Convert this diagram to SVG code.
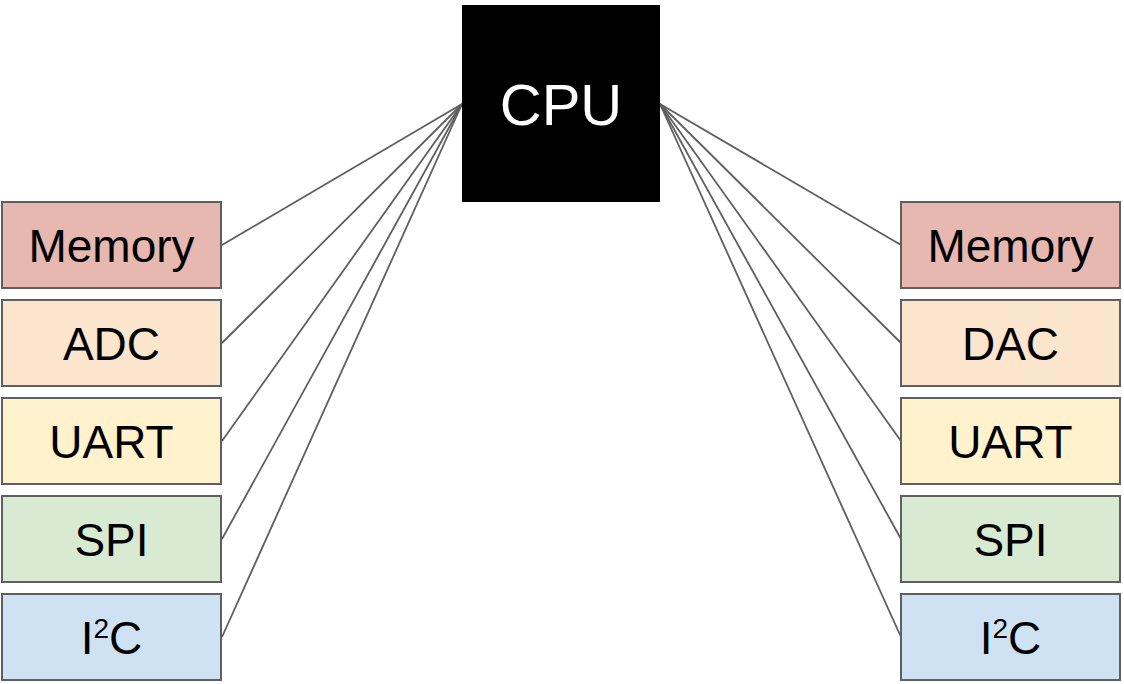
<svg xmlns="http://www.w3.org/2000/svg" width="1124" height="684" viewBox="0 0 1124 684">
  <style>
    .box { stroke: #5f5f5f; stroke-width: 2; }
    .lbl { font-family: "Liberation Sans", Arial, sans-serif; font-size: 46px; fill: #000; text-anchor: middle; }
    .cpu { font-family: "Liberation Sans", Arial, sans-serif; font-size: 58px; fill: #fff; text-anchor: middle; }
    .wire { stroke: #5f5f5f; stroke-width: 1.8; fill: none; }
    .mem { fill: #e6b8af; }
    .conv { fill: #fce5cd; }
    .uart { fill: #fff2cc; }
    .spi { fill: #d9ead3; }
    .i2c { fill: #cfe2f3; }
  </style>
  <rect width="1124" height="684" fill="#fff"/>

  <!-- bus wiring from the CPU to each peripheral -->
  <g id="connectors">
    <line class="wire" x1="462" y1="104" x2="222" y2="245"/>
    <line class="wire" x1="462" y1="104" x2="222" y2="343"/>
    <line class="wire" x1="462" y1="104" x2="222" y2="441"/>
    <line class="wire" x1="462" y1="104" x2="222" y2="539"/>
    <line class="wire" x1="462" y1="104" x2="222" y2="637"/>
    <line class="wire" x1="660" y1="104" x2="901" y2="245"/>
    <line class="wire" x1="660" y1="104" x2="901" y2="343"/>
    <line class="wire" x1="660" y1="104" x2="901" y2="441"/>
    <line class="wire" x1="660" y1="104" x2="901" y2="539"/>
    <line class="wire" x1="660" y1="104" x2="901" y2="637"/>
  </g>

  <g id="cpu">
    <rect x="462" y="5" width="198" height="197" fill="#000"/>
    <text class="cpu" x="561" y="125">CPU</text>
  </g>

  <!-- left column -->
  <g id="left-memory">
    <rect class="box mem" x="2" y="202" width="219" height="86"/>
    <text class="lbl" x="111.5" y="261.5">Memory</text>
  </g>
  <g id="left-adc">
    <rect class="box conv" x="2" y="300" width="219" height="86"/>
    <text class="lbl" x="111.5" y="359.5">ADC</text>
  </g>
  <g id="left-uart">
    <rect class="box uart" x="2" y="398" width="219" height="86"/>
    <text class="lbl" x="111.5" y="457.5">UART</text>
  </g>
  <g id="left-spi">
    <rect class="box spi" x="2" y="496" width="219" height="86"/>
    <text class="lbl" x="111.5" y="555.5">SPI</text>
  </g>
  <g id="left-i2c">
    <rect class="box i2c" x="2" y="594" width="219" height="86"/>
    <text class="lbl" x="111.5" y="653.5">I<tspan font-size="28" dy="-16">2</tspan><tspan dy="16">C</tspan></text>
  </g>

  <!-- right column -->
  <g id="right-memory">
    <rect class="box mem" x="901" y="202" width="219" height="86"/>
    <text class="lbl" x="1010.5" y="261.5">Memory</text>
  </g>
  <g id="right-dac">
    <rect class="box conv" x="901" y="300" width="219" height="86"/>
    <text class="lbl" x="1010.5" y="359.5">DAC</text>
  </g>
  <g id="right-uart">
    <rect class="box uart" x="901" y="398" width="219" height="86"/>
    <text class="lbl" x="1010.5" y="457.5">UART</text>
  </g>
  <g id="right-spi">
    <rect class="box spi" x="901" y="496" width="219" height="86"/>
    <text class="lbl" x="1010.5" y="555.5">SPI</text>
  </g>
  <g id="right-i2c">
    <rect class="box i2c" x="901" y="594" width="219" height="86"/>
    <text class="lbl" x="1010.5" y="653.5">I<tspan font-size="28" dy="-16">2</tspan><tspan dy="16">C</tspan></text>
  </g>
</svg>
